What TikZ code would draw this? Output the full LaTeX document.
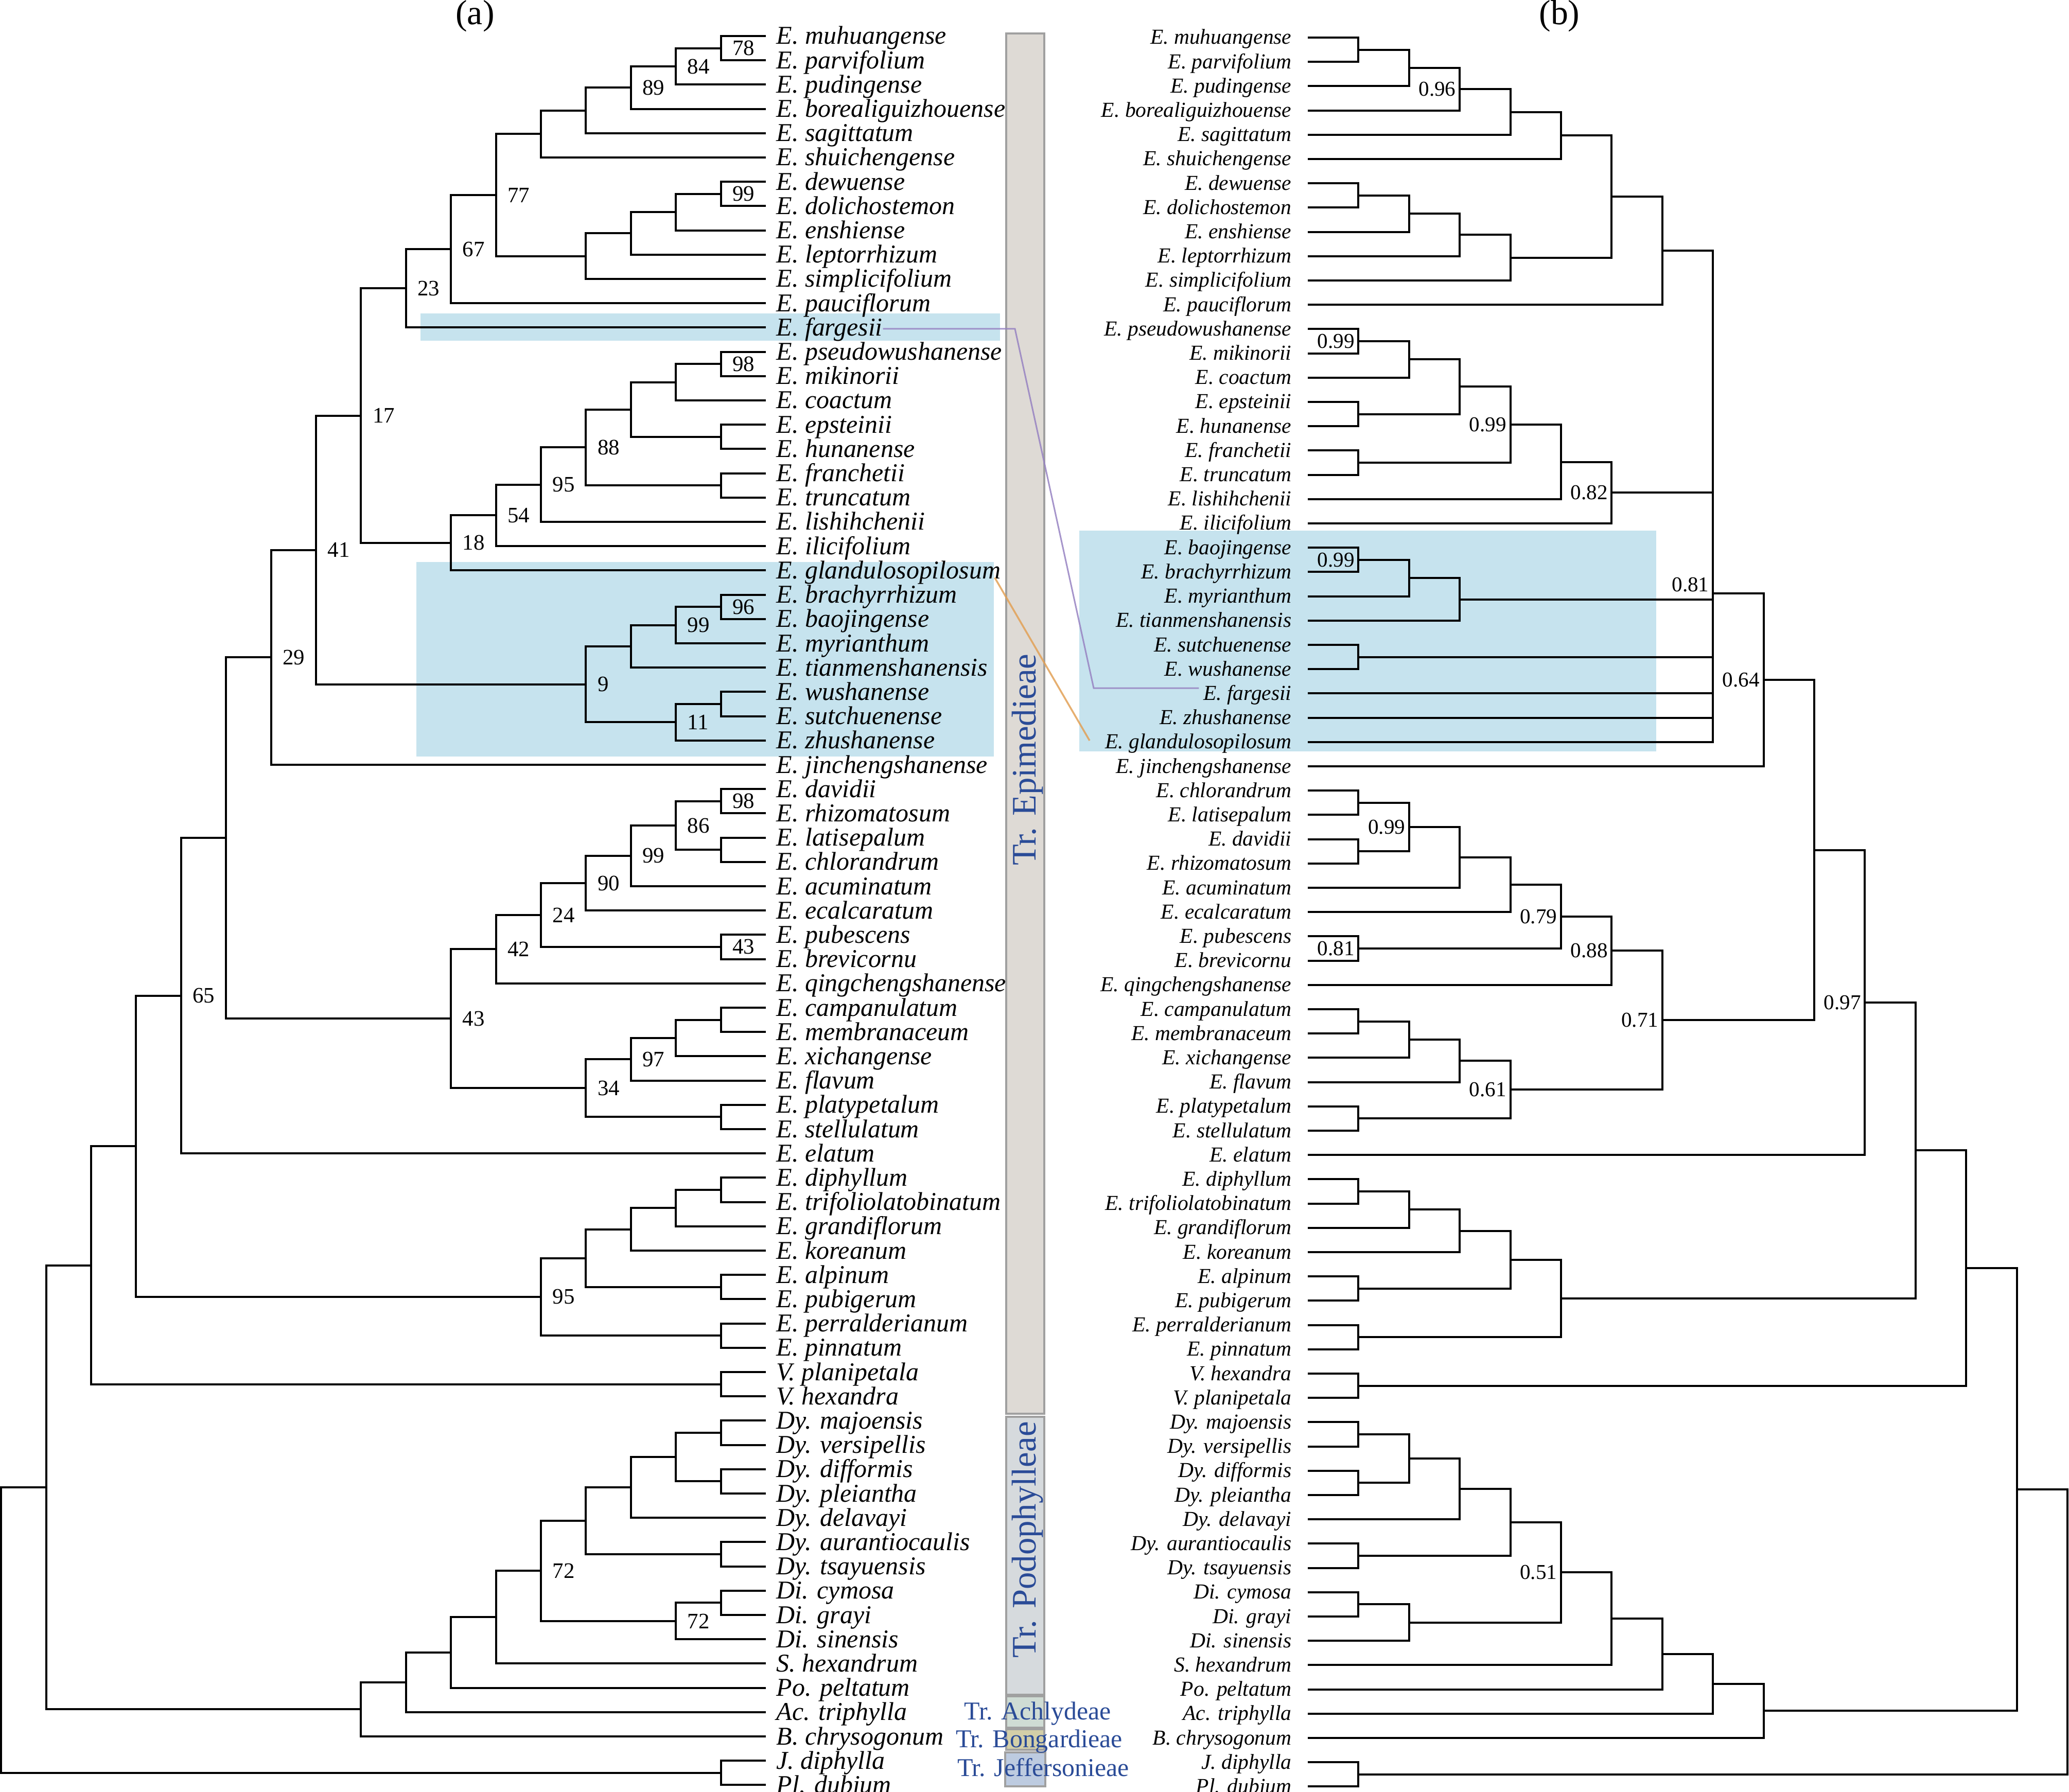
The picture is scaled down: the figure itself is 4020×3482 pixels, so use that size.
\documentclass[tikz,border=0pt]{standalone}
\usepackage{fontspec}
\setmainfont{Liberation Serif}
\usetikzlibrary{calc}
\definecolor{hlC}{HTML}{C6E3EE}
\definecolor{epiC}{HTML}{DEDAD5}
\definecolor{podC}{HTML}{D6DADD}
\definecolor{achC}{HTML}{CFDCD4}
\definecolor{bonC}{HTML}{D3CFA8}
\definecolor{jefC}{HTML}{BDCBE0}
\definecolor{barB}{HTML}{A0A0A0}
\definecolor{tribC}{HTML}{2A4B97}
\definecolor{purC}{HTML}{9783C2}
\definecolor{oraC}{HTML}{E2A157}

\newdimen\cladeY
\newcommand\mkclade[3]{%
  \gdef\cysum{0}\gdef\cyn{0}%
  \foreach \kid in {#3}{%
    \pgfextracty{\cladeY}{\pgfpointanchor{\kid}{center}}%
    \pgfmathsetmacro\cytmp{\cysum+\cladeY}\xdef\cysum{\cytmp}%
    \pgfmathsetmacro\cytmp{\cyn+1}\xdef\cyn{\cytmp}%
  }%
  \pgfmathsetmacro\cymean{\cysum/\cyn}%
  \coordinate (#1) at ({(#2)*0.1mm},\cymean pt);%
  \foreach \kid in {#3}{\draw[branch] (#1) |- (\kid);}%
}
\newcommand\cladeL[3]{\mkclade{#1}{1488-87.4*#2}{#3}}
\newcommand\cladeR[3]{\mkclade{#1}{2541+98.4*#2}{#3}}
\newcommand\bsL[2]{\node[bsl] (s#1) at ($(#1)+(22,0)$) {#2};}
\newcommand\ppR[2]{\node[ppr] (s#1) at ($(#1)+(-7,0)$) {#2};}

\tikzset{
  branch/.style={line width=0.4mm, line join=miter},
  tipL/.style={anchor=base west, inner sep=0, font=\fontsize{14.2}{14.2}\selectfont\itshape},
  tipR/.style={anchor=base east, inner sep=0, font=\fontsize{11.8}{11.8}\selectfont\itshape},
  bsl/.style={anchor=west, inner sep=0, font=\fontsize{12.2}{12.2}\selectfont},
  ppr/.style={anchor=east, inner sep=0, font=\fontsize{11.7}{11.7}\selectfont},
  panel/.style={inner sep=0, font=\fontsize{19.3}{19.3}\selectfont},
  hlbox/.style={fill=hlC, draw=none},
  tribebar/.style={draw=barB, line width=0.35mm},
  tribeV/.style={rotate=90, anchor=base, inner sep=0, text=tribC, font=\fontsize{19}{19}\selectfont},
  tribeS/.style={anchor=base, inner sep=0, text=tribC, font=\fontsize{14.2}{14.2}\selectfont},
  purp/.style={draw=purC, line width=0.3mm, draw opacity=0.85},
  orng/.style={draw=oraC, line width=0.35mm, draw opacity=0.85}
}

\begin{document}
\begin{tikzpicture}[x=0.1mm,y=-0.1mm]
\useasboundingbox (0,0) rectangle (4020,3482);

% highlight boxes
\fill[hlbox] (817,609) rectangle (1943,662);
\fill[hlbox] (809,1092) rectangle (1931,1470);
\fill[hlbox] (2097,1031) rectangle (3218,1460);

% tribe bars
\draw[tribebar, fill=epiC] (1955,65) rectangle (2029,2747);
\draw[tribebar, fill=podC] (1955,2753) rectangle (2029,3293);
\draw[tribebar, fill=achC] (1955,3296) rectangle (2029,3357);
\draw[tribebar, fill=bonC] (1955,3360) rectangle (2029,3400);
\draw[tribebar, fill=jefC] (1953,3405) rectangle (2031,3471);
\node[tribeV] (tEpi) at (2012,1476) {Tr. Epimedieae};
\node[tribeV] (tPod) at (2012,2992) {Tr. Podophylleae};
\node[tribeS] (tAch) at (2016,3341) {Tr. Achlydeae};
\node[tribeS] (tBon) at (2019,3395) {Tr. Bongardieae};
\node[tribeS] (tJef) at (2027,3451) {Tr. Jeffersonieae};

% panel labels
\node[panel] (pa) at (923,31) {(a)};
\node[panel] (pb) at (3030,31) {(b)};

% ---------- tree (a) tips ----------
\foreach \i/\t in {1/E. muhuangense,2/E. parvifolium,3/E. pudingense,4/E. borealiguizhouense,5/E. sagittatum,6/E. shuichengense,7/E. dewuense,8/E. dolichostemon,9/E. enshiense,10/E. leptorrhizum,11/E. simplicifolium,12/E. pauciflorum,13/E. fargesii,14/E. pseudowushanense,15/E. mikinorii,16/E. coactum,17/E. epsteinii,18/E. hunanense,19/E. franchetii,20/E. truncatum,21/E. lishihchenii,22/E. ilicifolium,23/E. glandulosopilosum,24/E. brachyrrhizum,25/E. baojingense,26/E. myrianthum,27/E. tianmenshanensis,28/E. wushanense,29/E. sutchuenense,30/E. zhushanense,31/E. jinchengshanense,32/E. davidii,33/E. rhizomatosum,34/E. latisepalum,35/E. chlorandrum,36/E. acuminatum,37/E. ecalcaratum,38/E. pubescens,39/E. brevicornu,40/E. qingchengshanense,41/E. campanulatum,42/E. membranaceum,43/E. xichangense,44/E. flavum,45/E. platypetalum,46/E. stellulatum,47/E. elatum,48/E. diphyllum,49/E. trifoliolatobinatum,50/E. grandiflorum,51/E. koreanum,52/E. alpinum,53/E. pubigerum,54/E. perralderianum,55/E. pinnatum,56/V. planipetala,57/V. hexandra,58/Dy. majoensis,59/Dy. versipellis,60/Dy. difformis,61/Dy. pleiantha,62/Dy. delavayi,63/Dy. aurantiocaulis,64/Dy. tsayuensis,65/Di. cymosa,66/Di. grayi,67/Di. sinensis,68/S. hexandrum,69/Po. peltatum,70/Ac. triphylla,71/B. chrysogonum,72/J. diphylla,73/Pl. dubium}{
  \coordinate (A\i) at (1488,{70+(\i-1)*47.2});
  \node[tipL] (lA\i) at ($(A\i)+(20,16)$) {\t};
}

% ---------- tree (b) tips ----------
\foreach \i/\t in {1/E. muhuangense,2/E. parvifolium,3/E. pudingense,4/E. borealiguizhouense,5/E. sagittatum,6/E. shuichengense,7/E. dewuense,8/E. dolichostemon,9/E. enshiense,10/E. leptorrhizum,11/E. simplicifolium,12/E. pauciflorum,13/E. pseudowushanense,14/E. mikinorii,15/E. coactum,16/E. epsteinii,17/E. hunanense,18/E. franchetii,19/E. truncatum,20/E. lishihchenii,21/E. ilicifolium,22/E. baojingense,23/E. brachyrrhizum,24/E. myrianthum,25/E. tianmenshanensis,26/E. sutchuenense,27/E. wushanense,28/E. fargesii,29/E. zhushanense,30/E. glandulosopilosum,31/E. jinchengshanense,32/E. chlorandrum,33/E. latisepalum,34/E. davidii,35/E. rhizomatosum,36/E. acuminatum,37/E. ecalcaratum,38/E. pubescens,39/E. brevicornu,40/E. qingchengshanense,41/E. campanulatum,42/E. membranaceum,43/E. xichangense,44/E. flavum,45/E. platypetalum,46/E. stellulatum,47/E. elatum,48/E. diphyllum,49/E. trifoliolatobinatum,50/E. grandiflorum,51/E. koreanum,52/E. alpinum,53/E. pubigerum,54/E. perralderianum,55/E. pinnatum,56/V. hexandra,57/V. planipetala,58/Dy. majoensis,59/Dy. versipellis,60/Dy. difformis,61/Dy. pleiantha,62/Dy. delavayi,63/Dy. aurantiocaulis,64/Dy. tsayuensis,65/Di. cymosa,66/Di. grayi,67/Di. sinensis,68/S. hexandrum,69/Po. peltatum,70/Ac. triphylla,71/B. chrysogonum,72/J. diphylla,73/Pl. dubium}{
  \coordinate (B\i) at (2541,{73+(\i-1)*47.2});
  \node[tipR] (lB\i) at ($(B\i)+(-31,13)$) {\t};
}

% ---------- tree (a) clades ----------
\cladeL{a1}{1}{A1,A2}\bsL{a1}{78}
\cladeL{a2}{2}{a1,A3}\bsL{a2}{84}
\cladeL{a3}{3}{a2,A4}\bsL{a3}{89}
\cladeL{a4}{4}{a3,A5}
\cladeL{a5}{5}{a4,A6}
\cladeL{a6}{1}{A7,A8}\bsL{a6}{99}
\cladeL{a7}{2}{a6,A9}
\cladeL{a8}{3}{a7,A10}
\cladeL{a9}{4}{a8,A11}
\cladeL{a10}{6}{a5,a9}\bsL{a10}{77}
\cladeL{a11}{7}{a10,A12}\bsL{a11}{67}
\cladeL{a12}{8}{a11,A13}\bsL{a12}{23}
\cladeL{a13}{1}{A14,A15}\bsL{a13}{98}
\cladeL{a14}{2}{a13,A16}
\cladeL{a15}{1}{A17,A18}
\cladeL{a16}{3}{a14,a15}
\cladeL{a17}{1}{A19,A20}
\cladeL{a18}{4}{a16,a17}\bsL{a18}{88}
\cladeL{a19}{5}{a18,A21}\bsL{a19}{95}
\cladeL{a20}{6}{a19,A22}\bsL{a20}{54}
\cladeL{a21}{7}{a20,A23}\bsL{a21}{18}
\cladeL{a22}{9}{a12,a21}\bsL{a22}{17}
\cladeL{a23}{1}{A24,A25}\bsL{a23}{96}
\cladeL{a24}{2}{a23,A26}\bsL{a24}{99}
\cladeL{a25}{3}{a24,A27}
\cladeL{a26}{1}{A28,A29}
\cladeL{a27}{2}{a26,A30}\bsL{a27}{11}
\cladeL{a28}{4}{a25,a27}\bsL{a28}{9}
\cladeL{a29}{10}{a22,a28}\bsL{a29}{41}
\cladeL{a30}{11}{a29,A31}\bsL{a30}{29}
\cladeL{a31}{1}{A32,A33}\bsL{a31}{98}
\cladeL{a32}{1}{A34,A35}
\cladeL{a33}{2}{a31,a32}\bsL{a33}{86}
\cladeL{a34}{3}{a33,A36}\bsL{a34}{99}
\cladeL{a35}{4}{a34,A37}\bsL{a35}{90}
\cladeL{a36}{1}{A38,A39}\bsL{a36}{43}
\cladeL{a37}{5}{a35,a36}\bsL{a37}{24}
\cladeL{a38}{6}{a37,A40}\bsL{a38}{42}
\cladeL{a39}{1}{A41,A42}
\cladeL{a40}{2}{a39,A43}
\cladeL{a41}{3}{a40,A44}\bsL{a41}{97}
\cladeL{a42}{1}{A45,A46}
\cladeL{a43}{4}{a41,a42}\bsL{a43}{34}
\cladeL{a44}{7}{a38,a43}\bsL{a44}{43}
\cladeL{a45}{12}{a30,a44}
\cladeL{a46}{13}{a45,A47}\bsL{a46}{65}
\cladeL{a47}{1}{A48,A49}
\cladeL{a48}{2}{a47,A50}
\cladeL{a49}{3}{a48,A51}
\cladeL{a50}{1}{A52,A53}
\cladeL{a51}{4}{a49,a50}
\cladeL{a52}{1}{A54,A55}
\cladeL{a53}{5}{a51,a52}\bsL{a53}{95}
\cladeL{a54}{14}{a46,a53}
\cladeL{a55}{1}{A56,A57}
\cladeL{a56}{15}{a54,a55}
\cladeL{a57}{1}{A58,A59}
\cladeL{a58}{1}{A60,A61}
\cladeL{a59}{2}{a57,a58}
\cladeL{a60}{3}{a59,A62}
\cladeL{a61}{1}{A63,A64}
\cladeL{a62}{4}{a60,a61}
\cladeL{a63}{1}{A65,A66}
\cladeL{a64}{2}{a63,A67}\bsL{a64}{72}
\cladeL{a65}{5}{a62,a64}\bsL{a65}{72}
\cladeL{a66}{6}{a65,A68}
\cladeL{a67}{7}{a66,A69}
\cladeL{a68}{8}{a67,A70}
\cladeL{a69}{9}{a68,A71}
\cladeL{a70}{16}{a56,a69}
\cladeL{a71}{1}{A72,A73}
\cladeL{a72}{17}{a70,a71}

% ---------- tree (b) clades ----------
\cladeR{b1}{1}{B1,B2}
\cladeR{b2}{2}{b1,B3}
\cladeR{b3}{3}{b2,B4}\ppR{b3}{0.96}
\cladeR{b4}{4}{b3,B5}
\cladeR{b5}{5}{b4,B6}
\cladeR{b6}{1}{B7,B8}
\cladeR{b7}{2}{b6,B9}
\cladeR{b8}{3}{b7,B10}
\cladeR{b9}{4}{b8,B11}
\cladeR{b10}{6}{b5,b9}
\cladeR{b11}{7}{b10,B12}
\cladeR{b12}{1}{B13,B14}\ppR{b12}{0.99}
\cladeR{b13}{2}{b12,B15}
\cladeR{b14}{1}{B16,B17}
\cladeR{b15}{3}{b13,b14}
\cladeR{b16}{1}{B18,B19}
\cladeR{b17}{4}{b15,b16}\ppR{b17}{0.99}
\cladeR{b18}{5}{b17,B20}
\cladeR{b19}{6}{b18,B21}\ppR{b19}{0.82}
\cladeR{b20}{1}{B22,B23}\ppR{b20}{0.99}
\cladeR{b21}{2}{b20,B24}
\cladeR{b22}{3}{b21,B25}
\cladeR{b23}{1}{B26,B27}
\cladeR{b24}{8}{b11,b19,b22,b23,B28,B29,B30}
\node[ppr] (sb24) at ($(b24)+(-7,-17)$) {0.81};
\cladeR{b25}{9}{b24,B31}\ppR{b25}{0.64}
\cladeR{b26}{1}{B32,B33}
\cladeR{b27}{1}{B34,B35}
\cladeR{b28}{2}{b26,b27}\ppR{b28}{0.99}
\cladeR{b29}{3}{b28,B36}
\cladeR{b30}{4}{b29,B37}
\cladeR{b31}{1}{B38,B39}\ppR{b31}{0.81}
\cladeR{b32}{5}{b30,b31}\ppR{b32}{0.79}
\cladeR{b33}{6}{b32,B40}\ppR{b33}{0.88}
\cladeR{b34}{1}{B41,B42}
\cladeR{b35}{2}{b34,B43}
\cladeR{b36}{3}{b35,B44}
\cladeR{b37}{1}{B45,B46}
\cladeR{b38}{4}{b36,b37}\ppR{b38}{0.61}
\cladeR{b39}{7}{b33,b38}\ppR{b39}{0.71}
\cladeR{b40}{10}{b25,b39}
\cladeR{b41}{11}{b40,B47}\ppR{b41}{0.97}
\cladeR{b42}{1}{B48,B49}
\cladeR{b43}{2}{b42,B50}
\cladeR{b44}{3}{b43,B51}
\cladeR{b45}{1}{B52,B53}
\cladeR{b46}{4}{b44,b45}
\cladeR{b47}{1}{B54,B55}
\cladeR{b48}{5}{b46,b47}
\cladeR{b49}{12}{b41,b48}
\cladeR{b50}{1}{B56,B57}
\cladeR{b51}{13}{b49,b50}
\cladeR{b52}{1}{B58,B59}
\cladeR{b53}{1}{B60,B61}
\cladeR{b54}{2}{b52,b53}
\cladeR{b55}{3}{b54,B62}
\cladeR{b56}{1}{B63,B64}
\cladeR{b57}{4}{b55,b56}
\cladeR{b58}{1}{B65,B66}
\cladeR{b59}{2}{b58,B67}
\cladeR{b60}{5}{b57,b59}\ppR{b60}{0.51}
\cladeR{b61}{6}{b60,B68}
\cladeR{b62}{7}{b61,B69}
\cladeR{b63}{8}{b62,B70}
\cladeR{b64}{9}{b63,B71}
\cladeR{b65}{14}{b51,b64}
\cladeR{b66}{1}{B72,B73}
\cladeR{b67}{15}{b65,b66}

% ---------- connectors between the trees ----------
\coordinate (pf1) at (1972,639);
\coordinate (pf2) at (2125,1337);
\coordinate (pf3) at ($(lB28.west |- pf2)+(-8,0)$);
\draw[purp] (lA13.east |- pf1) -- (pf1) -- (pf2) -- (pf3);
\coordinate (og1) at ($(lA23.base east)+(-12,-2)$);
\coordinate (og2) at (2117,1439);
\draw[orng] (og1) -- (og2);
\end{tikzpicture}
\end{document}
